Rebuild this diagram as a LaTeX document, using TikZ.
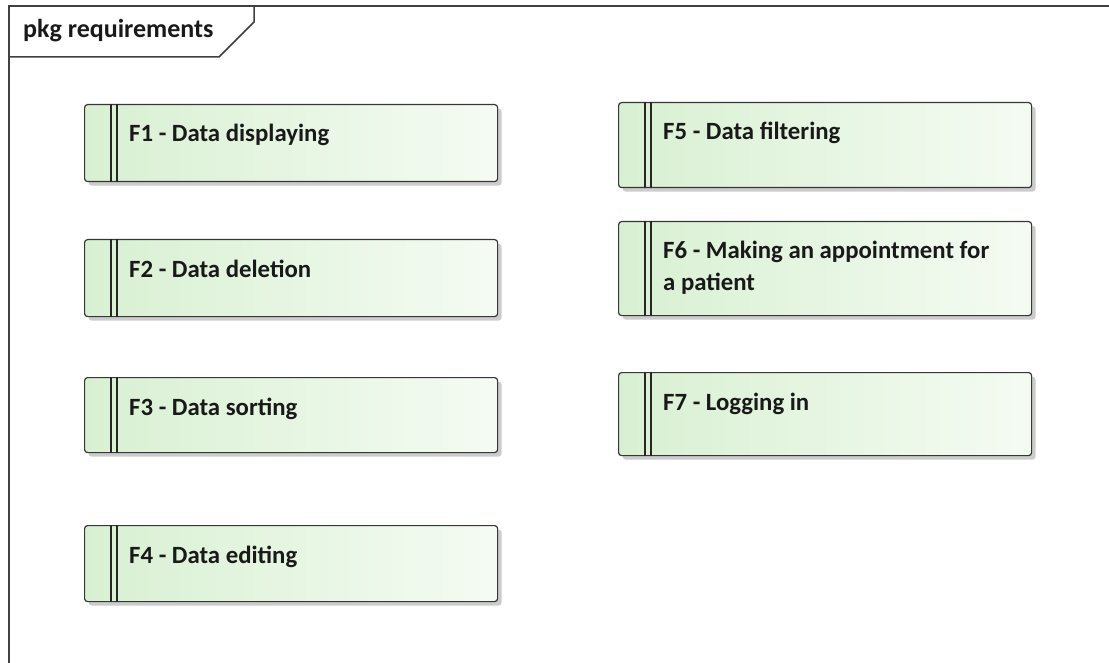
\documentclass[tikz,border=0pt]{standalone}
\usepackage{fontspec}
\setmainfont{Carlito}
\usetikzlibrary{positioning,shadows}

\definecolor{reqleft}{RGB}{216,240,210}
\definecolor{reqright}{RGB}{245,251,243}
\definecolor{reqborder}{RGB}{55,55,55}

\tikzset{
  reqbox/.style={draw=reqborder, line width=1.2pt, rounded corners=3pt,
    left color=reqleft, right color=reqright, minimum width=413pt,
    anchor=north west, inner sep=0pt,
    drop shadow={shadow xshift=4pt, shadow yshift=-4pt, fill=black, opacity=0.2}},
  reqtext/.style={anchor=base west, inner sep=0pt, text=black!90,
    font=\bfseries\fontsize{24.8}{32}\selectfont},
  reqbar/.style={draw=black!85, line width=1.1pt},
  pkgframe/.style={draw=black!75, line width=1.5pt},
}

\begin{document}
\begin{tikzpicture}[x=1pt, y=-1pt]
  \useasboundingbox (0,0) rectangle (1109,663);
  % package frame and its tab
  \draw[pkgframe] (9,663) -- (9,6) -- (1109,6);
  \draw[pkgframe] (9,57) -- (219,57) -- (254,22) -- (254,6);
  \node[anchor=base west, inner sep=0pt, text=black!90, font=\bfseries\fontsize{26}{30}\selectfont] (pkg-title) at (23,38) {pkg requirements};

  % requirement boxes
  \node[reqbox, minimum height=77pt] (req1) at (84,104) {};
  \node[reqbox, minimum height=77pt] (req2) at (84,239) {};
  \node[reqbox, minimum height=75pt] (req3) at (84,377) {};
  \node[reqbox, minimum height=76pt] (req4) at (84,525) {};
  \node[reqbox, minimum height=85pt] (req5) at (618,102) {};
  \node[reqbox, minimum height=94pt] (req6) at (618,221) {};
  \node[reqbox, minimum height=83pt] (req7) at (618,372) {};

  \foreach \req in {req1,req2,req3,req4,req5,req6,req7}
    \foreach \dx in {27,33}
      \draw[reqbar] ([xshift=\dx pt]\req.north west) -- ([xshift=\dx pt]\req.south west);

  \node[reqtext] (req1-name) at ([xshift=45pt, yshift=-38pt]req1.north west) {F1 - Data displaying};
  \node[reqtext] (req2-name) at ([xshift=45pt, yshift=-38pt]req2.north west) {F2 - Data deletion};
  \node[reqtext] (req3-name) at ([xshift=45pt, yshift=-38pt]req3.north west) {F3 - Data sorting};
  \node[reqtext] (req4-name) at ([xshift=45pt, yshift=-38pt]req4.north west) {F4 - Data editing};
  \node[reqtext] (req5-name) at ([xshift=45pt, yshift=-38pt]req5.north west) {F5 - Data filtering};
  \node[reqtext] (req6-name) at ([xshift=45pt, yshift=-38pt]req6.north west) {\parbox[t]{370pt}{F6 - Making an appointment for\\a patient}};
  \node[reqtext] (req7-name) at ([xshift=45pt, yshift=-38pt]req7.north west) {F7 - Logging in};
\end{tikzpicture}
\end{document}
